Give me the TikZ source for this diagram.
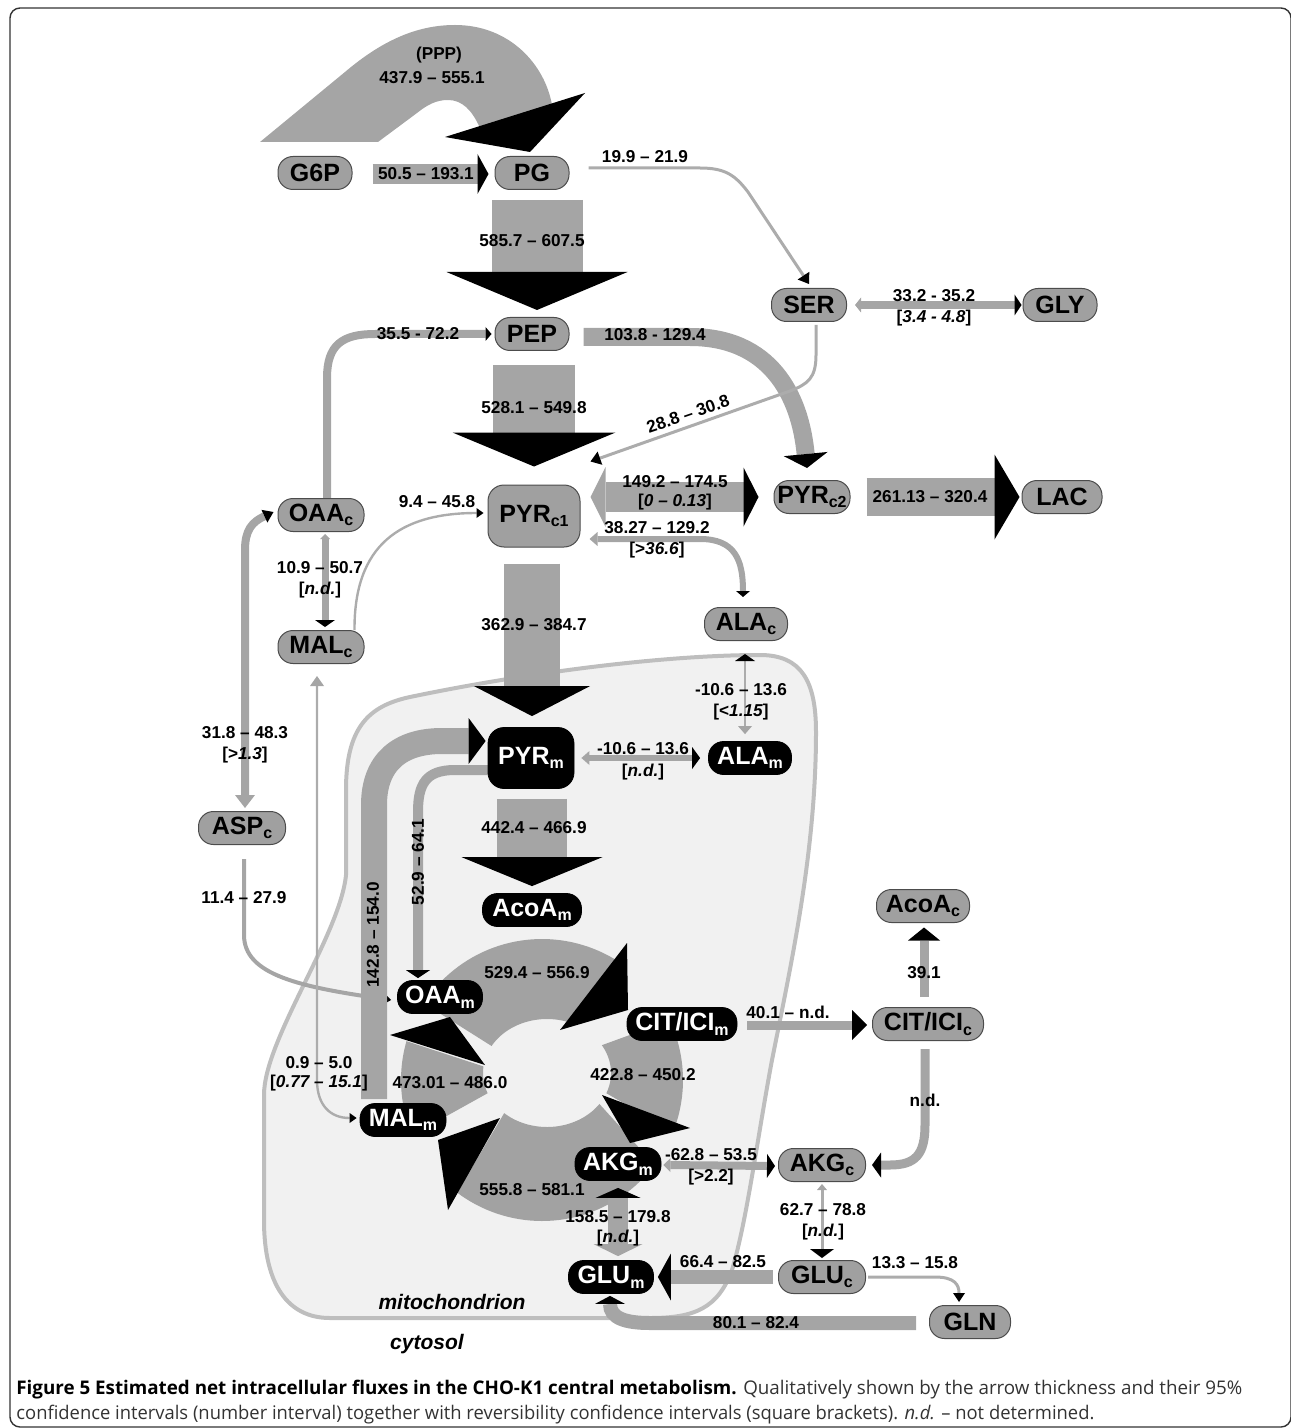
\documentclass[tikz,border=0pt]{standalone}
\usepackage{fontspec}
\usepackage{graphicx}
\setmainfont{Liberation Sans}
\newfontfamily\capfont{Open Sans}
\usetikzlibrary{arrows.meta,calc}
\pgfdeclarelayer{back}
\pgfdeclarelayer{mid}
\pgfsetlayers{back,mid,main}
\definecolor{bandg}{RGB}{165,165,165}
\definecolor{nodeg}{RGB}{160,160,160}
\definecolor{thing}{RGB}{172,172,172}
\definecolor{mitofill}{RGB}{241,241,241}
\definecolor{mitoline}{RGB}{190,190,190}
\definecolor{ringg}{RGB}{162,162,162}
\newcommand{\subs}[1]{\raisebox{-0.35ex}{\fontsize{8}{8}\selectfont #1}}
\tikzset{
  met/.style={draw=black!70, line width=0.5pt, fill=nodeg, rounded corners=7.5pt, minimum height=16.5pt, inner sep=0pt, font=\fontsize{12.5}{13}\selectfont\bfseries},
  mmet/.style={draw=black, fill=black, text=white, rounded corners=7.5pt, minimum height=16.5pt, inner sep=0pt, font=\fontsize{12.5}{13}\selectfont\bfseries},
  lab/.style={inner sep=0pt, font=\fontsize{8.6}{9.5}\selectfont\bfseries},
  bar/.style={draw=bandg, line cap=butt},
  thinl/.style={draw=thing, line cap=butt},
  tipK/.style 2 args={-{Triangle[width=#1,length=#2,line width=0pt,color=black]}},
  tipGK/.style n args={4}{{Triangle[width=#1,length=#2,line width=0pt,color=bandg]}-{Triangle[width=#3,length=#4,line width=0pt,color=black]}},
  tipKG/.style n args={4}{{Triangle[width=#1,length=#2,line width=0pt,color=black]}-{Triangle[width=#3,length=#4,line width=0pt,color=bandg]}},
}
\begin{document}
\begin{tikzpicture}[x=0.5pt,y=-0.5pt]
\useasboundingbox (0,0) rectangle (1290,1428);
\draw[line width=0.7pt, black!80, rounded corners=5pt] (10,8) rectangle (1291,1427);

% ---------- nodes ----------
\node[met, minimum width=37pt] (G6P) at (315,173) {G6P};
\node[met, minimum width=37pt] (PG) at (532,173) {PG};
\node[met, minimum width=37.5pt] (SER) at (809,305) {SER};
\node[met, minimum width=37pt] (GLY) at (1060,305) {GLY};
\node[met, minimum width=37pt] (PEP) at (532,334) {PEP};
\node[met, minimum width=46pt, minimum height=31pt, rounded corners=8pt] (PYRc1) at (534,516) {PYR\subs{c1}};
\node[met, minimum width=38pt] (PYRc2) at (812,497) {PYR\subs{c2}};
\node[met, minimum width=40pt] (LAC) at (1062,497) {LAC};
\node[met, minimum width=43pt] (OAAc) at (321,515) {OAA\subs{c}};
\node[met, minimum width=43pt] (MALc) at (321,647) {MAL\subs{c}};
\node[met, minimum width=41.5pt] (ALAc) at (746,624) {ALA\subs{c}};
\node[met, minimum width=43.5pt] (ASPc) at (242,828) {ASP\subs{c}};
\node[met, minimum width=46.5pt] (AcoAc) at (923,906) {AcoA\subs{c}};
\node[met, minimum width=55.5pt] (CITc) at (928,1024) {CIT/ICI\subs{c}};
\node[met, minimum width=43.5pt] (AKGc) at (822,1165) {AKG\subs{c}};
\node[met, minimum width=43.5pt] (GLUc) at (822,1277) {GLU\subs{c}};
\node[met, minimum width=40.5pt] (GLN) at (970,1322) {GLN};
\node[mmet, minimum width=43pt, minimum height=30.5pt, rounded corners=8pt] (PYRm) at (531,758) {PYR\subs{m}};
\node[mmet, minimum width=41.5pt] (ALAm) at (750,758) {ALA\subs{m}};
\node[mmet, minimum width=49.5pt] (AcoAm) at (532,910) {AcoA\subs{m}};
\node[mmet, minimum width=42.5pt] (OAAm) at (440,997) {OAA\subs{m}};
\node[mmet, minimum width=55pt] (CITm) at (682,1024) {CIT/ICI\subs{m}};
\node[mmet, minimum width=43pt] (MALm) at (403,1120) {MAL\subs{m}};
\node[mmet, minimum width=43pt] (AKGm) at (618,1164) {AKG\subs{m}};
\node[mmet, minimum width=42.5pt] (GLUm) at (611,1277) {GLU\subs{m}};

% ---------- mitochondrion ----------
\begin{pgfonlayer}{back}
\draw[mitoline, fill=mitofill, line width=2pt]
 (264,1220) -- (264,1095) .. controls (264,1040) and (340,935) .. (346,875)
 -- (346,790) .. controls (346,728) and (368,706) .. (410,697)
 .. controls (520,674) and (660,655) .. (760,655)
 .. controls (802,655) and (816,682) .. (816,732)
 .. controls (816,850) and (792,960) .. (772,1060)
 .. controls (757,1140) and (747,1220) .. (732,1270)
 .. controls (718,1308) and (695,1318) .. (650,1318)
 -- (330,1318) .. controls (288,1318) and (264,1285) .. (264,1220) -- cycle;
\end{pgfonlayer}

\begin{pgfonlayer}{mid}
% ---------- PPP ----------
\fill[bandg] (260,142) -- (345,72) .. controls (385,38) and (420,25) .. (455,25)
 .. controls (510,25) and (545,65) .. (552,105) -- (480,128)
 .. controls (472,110) and (462,100) .. (448,100)
 .. controls (436,100) and (427,105) .. (417,113) -- (378,142) -- cycle;
\fill[black] (585,93) -- (445,137) -- (530,152) -- cycle;

% ---------- TCA ring ----------
\fill[ringg] plot[domain=147:57, samples=40] ({542+141*cos(\x)},{1080-141*sin(\x)})
 -- plot[domain=66:150, samples=40] ({547+64*cos(\x)},{1073-54*sin(\x)}) -- cycle;
\fill[ringg] plot[domain=25:-21.5, samples=30] ({542+141*cos(\x)},{1080-141*sin(\x)})
 -- plot[domain=-22:31, samples=30] ({547+64*cos(\x)},{1073-54*sin(\x)}) -- cycle;
\fill[ringg] plot[domain=-37:-127, samples=40] ({542+141*cos(\x)},{1080-141*sin(\x)})
 -- plot[domain=-132:-35, samples=40] ({547+64*cos(\x)},{1073-54*sin(\x)}) -- cycle;
\fill[ringg] plot[domain=203:164, samples=30] ({542+141*cos(\x)},{1080-141*sin(\x)})
 -- plot[domain=173:202, samples=20] ({547+64*cos(\x)},{1073-54*sin(\x)}) -- cycle;
\fill[black] (627,943) -- (628,1010) -- (560,1030) -- cycle;
\fill[black] (602,1095) -- (690,1128) -- (630,1143) -- cycle;
\fill[black] (500,1118) -- (448,1210) -- (438,1140) -- cycle;
\fill[black] (390,1035) -- (485,1065) -- (450,1017) -- cycle;

% ---------- connectors ----------
\draw[bar, line width=10pt, tipK={20pt}{5.5pt}] ($(G6P.east)+(20,1)$) -- ($(PG.west)+(-6,1)$);
\draw[bar, line width=45.5pt, tipK={90.5pt}{19pt}] ($(PG.south)+(5,10)$) -- ($(PEP.north)+(5,-7)$);
\draw[bar, line width=41pt, tipK={81.5pt}{17pt}] ($(PEP.south)+(2,14)$) -- ($(PYRc1.north)+(0,-18)$);
\draw[bar, line width=28pt, tipK={58pt}{15pt}] ($(PYRc1.south)+(-2,16)$) -- ($(PYRm.north)+(1,-11)$);
\draw[bar, line width=35pt, tipK={70.5pt}{14.5pt}] ($(PYRm.south)+(1,10)$) -- ($(AcoAm.north)+(0,-7)$);
\draw[bar, line width=19pt, tipK={42.5pt}{12.5pt}] ($(PYRc2.east)+(16,0)$) -- ($(LAC.west)+(-2,0)$);
\draw[bar, line width=15pt, tipGK={30pt}{7.5pt}{29.5pt}{7.5pt}] ($(PYRc1.east)+(10,-19)$) -- ($(PYRc2.west)+(-15,0)$);
\draw[bar, line width=7pt, tipK={23.5pt}{6.5pt}] ($(GLUc.west)+(-5,0)$) -- ($(GLUm.east)+(4,0)$);
\draw[bar, line width=4.5pt, tipK={15pt}{7.5pt}] ($(CITm.east)+(10,1)$) -- ($(CITc.west)+(-5,1)$);
\draw[bar, line width=4.5pt, tipK={16pt}{6.5pt}] ($(CITc.north)+(-4,-10)$) -- ($(AcoAc.south)+(1,4.5)$);
\draw[bar, line width=4.5pt, tipK={12.5pt}{4.5pt}] ($(CITc.south)+(-3,8)$) -- (925,1125)
  .. controls (925,1155) and (915,1165) .. (890,1165) -- ($(AKGc.east)+(6,0)$);
\draw[bar, line width=4pt, tipGK={7pt}{3.5pt}{12pt}{4pt}] ($(AKGm.east)+(2,1)$) -- ($(AKGc.west)+(-3,1)$);
\draw[thinl, line width=1.5pt, tipGK={5pt}{3pt}{12pt}{4.5pt}] ($(AKGc.south)+(0,2)$) -- ($(GLUc.north)+(0,-2)$);
\draw[bar, line width=10pt, tipKG={22.5pt}{5pt}{24.5pt}{6pt}] ($(AKGm.south)+(0,7)$) -- ($(GLUm.north)+(7,-4)$);
\draw[bar, line width=7pt, tipK={15pt}{4pt}] ($(GLN.west)+(-13,1)$) -- (650,1323)
  .. controls (625,1323) and (610,1318) .. ($(GLUm.south)+(-1,2)$);
\draw[thinl, line width=1.5pt, tipK={6pt}{4.5pt}] ($(GLUc.east)+(2,0)$) -- (935,1277)
  .. controls (955,1277) and (959,1285) .. ($(GLN.north)+(-11,-3)$);
\draw[bar, line width=2pt, tipK={6pt}{4pt}] ($(ASPc.south)+(2,14)$) -- (244,935)
  .. controls (244,975) and (300,987) .. ($(OAAm.west)+(-6,3)$);
\draw[bar, line width=13pt, tipK={23pt}{8.5pt}] ($(MALm.north)+(-29,-4)$) -- (374,805)
  .. controls (374,762) and (400,741) .. (442,741) -- ($(PYRm.west)+(-2,-17)$);
\draw[bar, line width=5pt, tipK={12pt}{4pt}] ($(PYRm.west)+(2,12)$) -- (455,770)
  .. controls (425,770) and (418,785) .. (418,812) -- ($(OAAm.north)+(-22,-2)$);
\draw[bar, line width=4pt, tipK={7pt}{3pt}] ($(OAAc.north)+(6,0)$) -- (327,378)
  .. controls (327,345) and (342,334) .. (375,334) -- ($(PEP.west)+(-3,0)$);
\draw[bar, line width=9pt, tipK={22pt}{7pt}] ($(PEP.east)+(14,3)$) -- (690,337)
  .. controls (770,337) and (800,395) .. ($(PYRc2.north)+(-5,-12)$);
\draw[thinl, line width=1.5pt, tipK={7pt}{5pt}] ($(SER.south)+(7,3)$) -- (816,355)
  .. controls (816,378) and (808,384) .. (790,391) -- ($(PYRc1.north east)+(10,-23)$);
\draw[thinl, line width=1.5pt, tipK={7pt}{5pt}] ($(PG.east)+(19,-5)$) -- (700,168)
  .. controls (725,168) and (735,175) .. (748,192) -- ($(SER.north)+(0,-4)$);
\draw[bar, line width=4pt, tipGK={7.5pt}{3pt}{10.5pt}{3.5pt}] ($(SER.east)+(8,0)$) -- ($(GLY.west)+(-1,0)$);
\draw[bar, line width=3.5pt, tipGK={5pt}{2.5pt}{10pt}{3.5pt}] ($(OAAc.south)+(4,2)$) -- ($(MALc.north)+(4,-3)$);
\draw[thinl, line width=1.2pt, tipK={5pt}{3.5pt}] ($(MALc.north east)+(-10,0)$)
  .. controls (354,545) and (400,513) .. ($(PYRc1.west)+(-4,-3)$);
\draw[bar, line width=4pt, tipGK={10pt}{6.5pt}{7pt}{5pt}] ($(ASPc.north)+(3,-3)$) -- (245,550)
  .. controls (245,530) and (252,522) .. ($(OAAc.west)+(-4,-3)$);
\draw[thinl, line width=1.2pt, tipGK={7pt}{5pt}{5pt}{3.5pt}] ($(MALc.south)+(-4,12)$) -- (317,1080)
  .. controls (317,1105) and (330,1118) .. ($(MALm.west)+(-3,-2)$);
\draw[bar, line width=3pt, tipGK={7pt}{4pt}{7pt}{3pt}] ($(PYRc1.east)+(9,23)$) -- (700,539)
  .. controls (735,539) and (743,560) .. ($(ALAc.north)+(-3,-10)$);
\draw[thinl, line width=1.2pt, tipKG={10pt}{3.5pt}{7pt}{4pt}] ($(ALAc.south)+(-1,13)$) -- ($(ALAm.north)+(-5,-7)$);
\draw[bar, line width=3pt, tipGK={7pt}{4pt}{11pt}{4pt}] ($(PYRm.east)+(7,0)$) -- ($(ALAm.west)+(-8,0)$);
\end{pgfonlayer}

% ---------- labels ----------
\node[lab] at (439,55) {(PPP)};
\node[lab] at (432,78) {437.9 – 555.1};
\node[lab] at (426,174) {50.5 – 193.1};
\node[lab] at (645,157) {19.9 – 21.9};
\node[lab] at (532,241) {585.7 – 607.5};
\node[lab] at (934,296) {33.2 - 35.2};
\node[lab] at (934,318) {[\textit{3.4 - 4.8}]};
\node[lab] at (418,334) {35.5 - 72.2};
\node[lab] at (655,335) {103.8 - 129.4};
\node[lab] at (534,408) {528.1 – 549.8};
\node[lab, rotate=19] at (688,414) {28.8 – 30.8};
\node[lab] at (675,482) {149.2 – 174.5};
\node[lab] at (675,502) {[\textit{0 – 0.13}]};
\node[lab] at (437,502) {9.4 – 45.8};
\node[lab] at (657,528) {38.27 – 129.2};
\node[lab] at (657,550) {[>\textit{36.6}]};
\node[lab] at (320,568) {10.9 – 50.7};
\node[lab] at (320,590) {[\textit{n.d.}]};
\node[lab] at (534,625) {362.9 – 384.7};
\node[lab] at (930,497) {261.13 – 320.4};
\node[lab] at (741,690) {-10.6 – 13.6};
\node[lab] at (741,712) {[<\textit{1.15}]};
\node[lab] at (245,733) {31.8 – 48.3};
\node[lab] at (245,755) {[>\textit{1.3}]};
\node[lab] at (643,749) {-10.6 – 13.6};
\node[lab] at (643,772) {[\textit{n.d.}]};
\node[lab] at (534,828) {442.4 – 466.9};
\node[lab, rotate=90] at (418,862) {52.9 – 64.1};
\node[lab, rotate=90] at (373,935) {142.8 – 154.0};
\node[lab] at (244,898) {11.4 – 27.9};
\node[lab] at (537,973) {529.4 – 556.9};
\node[lab] at (924,973) {39.1};
\node[lab] at (788,1012) {40.1 – n.d.};
\node[lab] at (319,1063) {0.9 – 5.0};
\node[lab] at (319,1083) {[\textit{0.77 – 15.1}]};
\node[lab] at (450,1083) {473.01 – 486.0};
\node[lab] at (643,1075) {422.8 – 450.2};
\node[lab] at (925,1100) {n.d.};
\node[lab] at (711,1155) {-62.8 – 53.5};
\node[lab] at (711,1177) {[>2.2]};
\node[lab] at (532,1190) {555.8 – 581.1};
\node[lab] at (823,1210) {62.7 – 78.8};
\node[lab] at (823,1232) {[\textit{n.d.}]};
\node[lab] at (618,1217) {158.5 – 179.8};
\node[lab] at (618,1238) {[\textit{n.d.}]};
\node[lab] at (723,1262) {66.4 – 82.5};
\node[lab] at (915,1263) {13.3 – 15.8};
\node[lab] at (756,1323) {80.1 – 82.4};
\node[inner sep=0pt, font=\fontsize{10.5}{12}\selectfont\bfseries\itshape] at (452,1302) {mitochondrion};
\node[inner sep=0pt, font=\fontsize{10.5}{12}\selectfont\bfseries\itshape] at (427,1344) {cytosol};

% ---------- caption ----------
\node[anchor=base west, inner sep=0pt] (cap1) at (16,1394) {\resizebox{613pt}{\height}{\capfont\fontsize{9.4}{11}\selectfont\textbf{Figure 5 Estimated net intracellular fluxes in the CHO-K1 central metabolism.} \color{black!80}Qualitatively shown by the arrow thickness and their 95\%}};
\node[anchor=base west, inner sep=0pt] (cap2) at (16,1419) {\resizebox{539pt}{\height}{\capfont\fontsize{9.4}{11}\selectfont\color{black!80}confidence intervals (number interval) together with reversibility confidence intervals (square brackets). \textit{n.d.} – not determined.}};
\end{tikzpicture}
\end{document}
